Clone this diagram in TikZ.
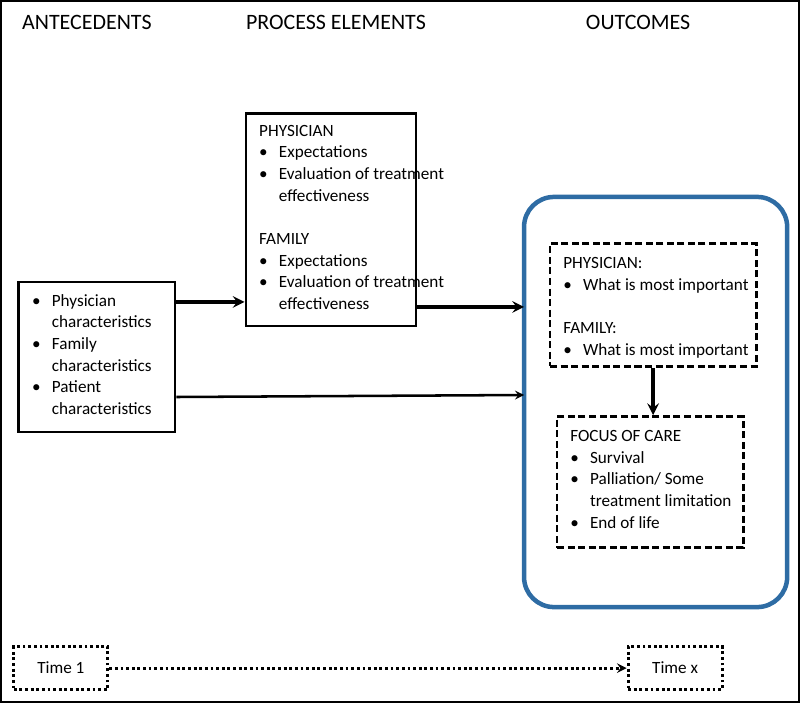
\documentclass[tikz,border=0pt]{standalone}
\usepackage{fontspec}
\setmainfont{Carlito}
\usetikzlibrary{positioning}
\newcommand\bul{\makebox[1.15em][l]{\textbullet}}
\newcommand\ind{\hspace*{1.15em}}
\tikzset{
  head/.style={font=\fontsize{15.6}{18}\selectfont},
  txt/.style={anchor=north west, align=left, inner sep=0pt, font=\fontsize{12.2}{15.4}\selectfont},
  solidbox/.style={draw, line width=2pt},
  dashbox/.style={draw, line width=2pt, dash pattern=on 5pt off 2.5pt},
  dotbox/.style={draw, line width=2pt, dotted},
  arr/.style={->, >=stealth, line width=2.6pt},
}
\definecolor{outblue}{RGB}{46,108,164}
\begin{document}
\begin{tikzpicture}[x=0.025cm,y=-0.025cm]
    \draw[line width=1.2pt] (1,1) rectangle (799,702);
    % column heads
    \node[head] (hant) at (87,23) {ANTECEDENTS};
    \node[head] (hproc) at (336,23) {PROCESS ELEMENTS};
    \node[head] (hout) at (638,23) {OUTCOMES};
    % boxes
    \node[solidbox, minimum width=156*0.025cm, minimum height=150*0.025cm] (ante) at (97,357) {};
    \node[solidbox, minimum width=170*0.025cm, minimum height=212*0.025cm] (proc) at (331,220) {};
    \draw[outblue, line width=3.2pt, rounded corners=30*0.025cm] (524,197) rectangle (787,607);
    \coordinate (outL1) at (524,307);
    \coordinate (outL2) at (524,395);
    \node[dashbox, minimum width=206*0.025cm, minimum height=123*0.025cm] (pref) at (653,305) {};
    \node[dashbox, minimum width=186*0.025cm, minimum height=131*0.025cm] (focus) at (650,482) {};
    \node[dotbox, minimum width=94*0.025cm, minimum height=43*0.025cm] (t1) at (61,668) {};
    \node[dotbox, minimum width=94*0.025cm, minimum height=43*0.025cm] (tx) at (675,668) {};
    % texts
    \node[txt] (antetxt) at (32,294) {\bul Physician\\\ind characteristics\\\bul Family\\\ind characteristics\\\bul Patient\\\ind characteristics};
    \node[txt] (proctxt) at (259,125) {PHYSICIAN\\\bul Expectations\\\bul Evaluation of treatment\\\ind effectiveness\\[15.4pt]FAMILY\\\bul Expectations\\\bul Evaluation of treatment\\\ind effectiveness};
    \node[txt] (preftxt) at (563,257) {PHYSICIAN:\\\bul What is most important\\[15.4pt]FAMILY:\\\bul What is most important};
    \node[txt] (focustxt) at (570,430) {FOCUS OF CARE\\\bul Survival\\\bul Palliation/ Some\\\ind treatment limitation\\\bul End of life};
    \node[txt, anchor=center] (t1txt) at (t1) {Time 1};
    \node[txt, anchor=center] (txtxt) at (tx) {Time x};
    % connectors
    \draw[arr] (ante.east |- 0,302) -- (proc.west |- 0,302);
    \draw[arr] (proc.east |- outL1) -- (outL1);
    \draw[->, >=stealth, line width=1.8pt] (ante.east |- 0,397) -- (outL2);
    \draw[arr] (pref.south) -- (pref.south |- focus.north);
    \draw[->, >=stealth, line width=2pt, dotted] (t1) -- (tx);
\end{tikzpicture}
\end{document}
